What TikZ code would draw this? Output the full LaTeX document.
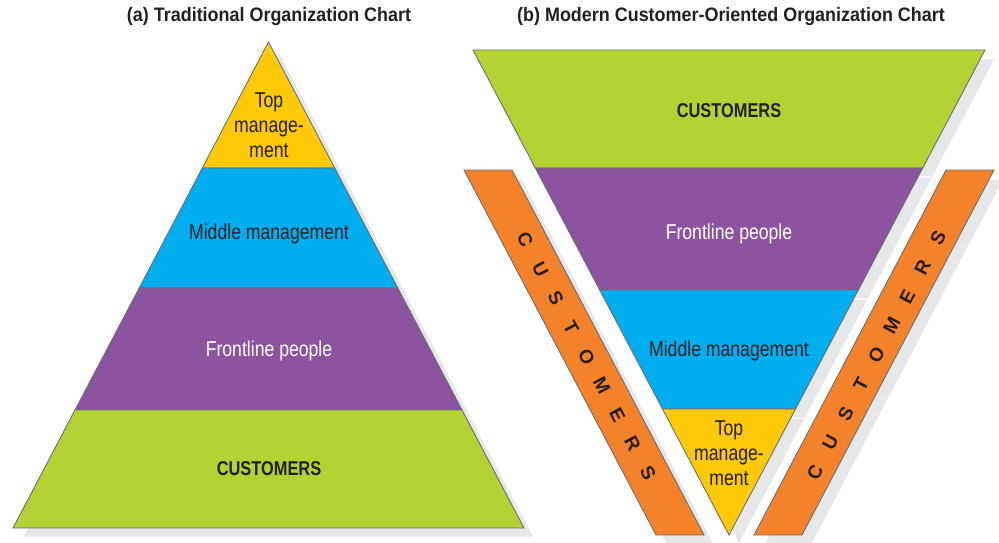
\documentclass[tikz,border=0pt]{standalone}
\usepackage{fontspec}
\setmainfont{Liberation Sans}[FakeStretch=0.82]
\newfontfamily\titlefont{Liberation Sans}[FakeStretch=0.92]
\newfontfamily\barfont{Liberation Sans}
\usetikzlibrary{calc}

\definecolor{topyellow}{HTML}{FFC907}
\definecolor{midblue}{HTML}{00AEEF}
\definecolor{frontpurple}{HTML}{8C53A0}
\definecolor{custgreen}{HTML}{B3D334}
\definecolor{custorange}{HTML}{F4822B}
\definecolor{shadowgray}{HTML}{E6E7E8}
\definecolor{edgegray}{HTML}{6D6E71}
\definecolor{inkblack}{HTML}{231F20}

\tikzset{
  band/.style={draw=edgegray, line width=0.9pt, line join=miter},
  dropshadow/.style={fill=shadowgray, draw=white, line width=1pt},
  bandtext/.style={align=center, text=inkblack, inner sep=0pt,
    font=\fontsize{21.5}{25}\selectfont},
  custtext/.style={text=inkblack, inner sep=0pt,
    font=\fontsize{20}{24}\selectfont\bfseries},
  titletext/.style={text=inkblack, inner sep=0pt,
    font=\titlefont\fontsize{19.5}{22}\selectfont\bfseries},
  barletter/.style={text=inkblack, inner sep=0pt,
    font=\barfont\fontsize{19}{22}\selectfont\bfseries}
}

\begin{document}
\begin{tikzpicture}[x=1pt, y=-1pt]
  \useasboundingbox (0,0) rectangle (999,543);

  % drop shadows
  \begin{scope}[shift={(10,9)}]
    \filldraw[dropshadow] (268.5,42) -- (334.7,168) -- (202.3,168) -- cycle;
    \filldraw[dropshadow] (202.3,168) -- (334.7,168) -- (397.8,288) -- (139.2,288) -- cycle;
    \filldraw[dropshadow] (139.2,288) -- (397.8,288) -- (462,410) -- (75,410) -- cycle;
    \filldraw[dropshadow] (75,410) -- (462,410) -- (524,528) -- (13,528) -- cycle;
    \filldraw[dropshadow] (473,50) -- (985,50) -- (922.7,168) -- (535.3,168) -- cycle;
    \filldraw[dropshadow] (535.3,168) -- (922.7,168) -- (858.3,290) -- (599.7,290) -- cycle;
    \filldraw[dropshadow] (599.7,290) -- (858.3,290) -- (795.5,409) -- (662.5,409) -- cycle;
    \filldraw[dropshadow] (662.5,409) -- (795.5,409) -- (729,535) -- cycle;
    \filldraw[dropshadow] (464,170) -- (512,170) -- (704,535) -- (656,535) -- cycle;
    \filldraw[dropshadow] (946,170) -- (994,170) -- (802,535) -- (754,535) -- cycle;
  \end{scope}

  % (a) traditional pyramid
  \filldraw[band, fill=topyellow] (268.5,42) -- (334.7,168) -- (202.3,168) -- cycle;
  \filldraw[band, fill=midblue] (202.3,168) -- (334.7,168) -- (397.8,288) -- (139.2,288) -- cycle;
  \filldraw[band, fill=frontpurple] (139.2,288) -- (397.8,288) -- (462,410) -- (75,410) -- cycle;
  \filldraw[band, fill=custgreen] (75,410) -- (462,410) -- (524,528) -- (13,528) -- cycle;

  % (b) inverted pyramid
  \filldraw[band, fill=custgreen] (473,50) -- (985,50) -- (922.7,168) -- (535.3,168) -- cycle;
  \filldraw[band, fill=frontpurple] (535.3,168) -- (922.7,168) -- (858.3,290) -- (599.7,290) -- cycle;
  \filldraw[band, fill=midblue] (599.7,290) -- (858.3,290) -- (795.5,409) -- (662.5,409) -- cycle;
  \filldraw[band, fill=topyellow] (662.5,409) -- (795.5,409) -- (729,535) -- cycle;

  % customer bars
  \filldraw[band, fill=custorange] (464,170) -- (512,170) -- (704,535) -- (656,535) -- cycle;
  \filldraw[band, fill=custorange] (946,170) -- (994,170) -- (802,535) -- (754,535) -- cycle;

  \node[titletext] (titleA) at (269,17) {(a) Traditional Organization Chart};
  \node[titletext] (titleB) at (731,17) {(b) Modern Customer-Oriented Organization Chart};

  \node[bandtext] (topA) at (269,125) {Top\\manage-\\ment};
  \node[bandtext] (midA) at (269,234) {Middle management};
  \node[bandtext, text=white] (frontA) at (269,351) {Frontline people};
  \node[custtext] (custA) at (269,469) {CUSTOMERS};

  \node[custtext] (custB) at (729,111) {CUSTOMERS};
  \node[bandtext, text=white] (frontB) at (729,234) {Frontline people};
  \node[bandtext] (midB) at (729,351) {Middle management};
  \node[bandtext] (topB) at (729,453) {Top\\manage-\\ment};

  \coordinate (leftC) at (525,240);
  \coordinate (leftS) at (648,473);
  \coordinate (rightC) at (815,472);
  \coordinate (rightS) at (938,238);
  \foreach \ch [count=\i from 0] in {C,U,S,T,O,M,E,R,S} {
    \node[barletter, rotate=-62.2] (barL\i) at ($(leftC)!\i/8!(leftS)$) {\ch};
    \node[barletter, rotate=62.2] (barR\i) at ($(rightC)!\i/8!(rightS)$) {\ch};
  }
\end{tikzpicture}
\end{document}
